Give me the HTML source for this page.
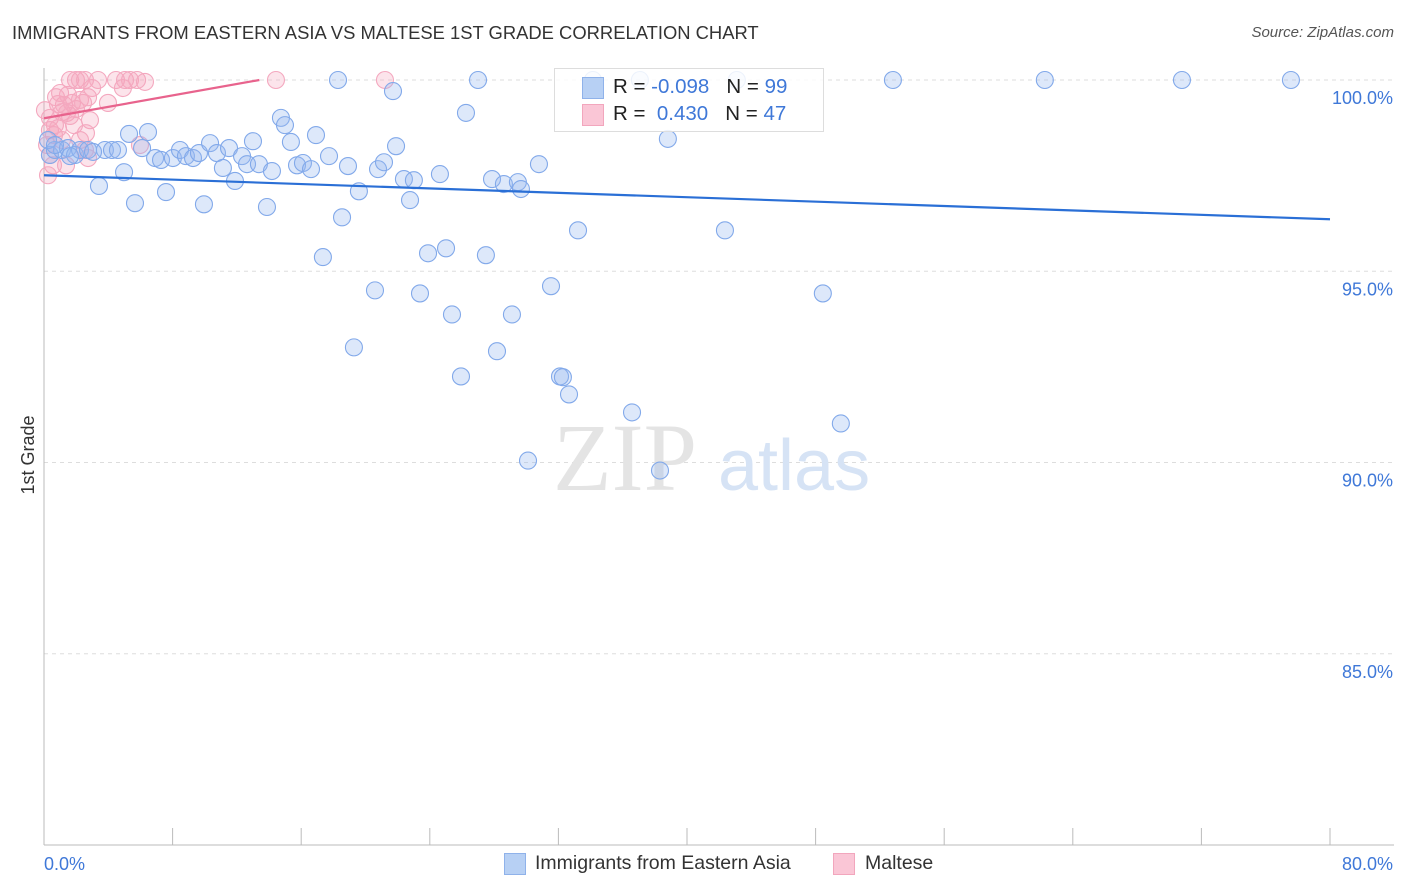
<!DOCTYPE html>
<html><head><meta charset="utf-8"><style>
body{margin:0;background:#fff;font-family:"Liberation Sans",sans-serif;}
#wrap{position:relative;width:1406px;height:892px;overflow:hidden;}
.t{position:absolute;white-space:nowrap;}
</style></head><body>
<div id="wrap">
<div class="t" style="left:12px;top:22px;font-size:18.4px;color:#333;">IMMIGRANTS FROM EASTERN ASIA VS MALTESE 1ST GRADE CORRELATION CHART</div>
<div class="t" style="right:12px;top:24px;font-size:15px;color:#555;font-style:italic;">Source: ZipAtlas.com</div>
<svg id="svg" width="1406" height="892" style="position:absolute;left:0;top:0"></svg>
</div>
<script>
const xTickLabels=["0.0%","80.0%"];
const yTicks=[100,95,90,85];
const blueX=[0.37,0.68,1.12,1.49,1.93,2.24,2.74,3.42,3.79,4.23,4.60,4.98,5.29,5.66,6.10,6.47,6.91,7.28,7.59,8.02,8.46,8.83,9.27,9.64,9.95,10.33,10.76,11.13,11.51,11.88,12.32,12.63,13.00,13.37,13.87,14.18,14.74,14.99,15.36,15.74,16.11,16.61,16.92,17.35,17.73,18.29,18.54,18.91,19.28,19.59,20.59,20.78,21.15,21.71,21.90,22.39,22.77,23.01,23.39,23.89,24.63,25.01,25.38,25.94,26.25,27.00,27.49,27.87,28.18,28.61,29.11,29.48,29.67,30.11,30.79,31.54,32.10,32.28,32.66,33.22,34.15,36.58,37.07,38.32,38.81,42.36,43.10,48.45,49.57,52.81,62.26,70.79,77.57,0.25,0.68,1.62,3.05];
const blueY=[98.04,98.17,98.17,98.22,98.04,98.17,98.17,97.23,98.17,98.17,98.17,97.59,98.59,96.78,98.22,98.64,97.96,97.91,97.07,97.96,98.17,98.01,97.96,98.09,96.75,98.35,98.09,97.70,98.22,97.36,98.01,97.80,98.40,97.80,96.68,97.62,99.01,98.82,98.38,97.77,97.83,97.67,98.56,95.37,98.01,100,96.41,97.75,93.01,97.09,94.50,97.67,97.85,99.71,98.27,97.41,96.86,97.38,94.42,95.47,97.54,95.60,93.87,92.25,99.14,100,95.42,97.41,92.91,97.28,93.87,97.33,97.15,90.05,97.80,94.61,92.25,92.23,91.78,96.07,100,91.31,100,89.79,98.46,96.07,100,94.42,91.02,100,100,100,100,98.43,98.30,98.01,98.12];
const pinkX=[1.62,1.99,2.24,2.55,3.36,4.48,5.04,5.35,5.79,6.28,14.43,21.21,1.0,1.24,0.87,1.74,2.24,2.74,2.99,3.98,4.91,0.37,0.68,1.12,1.43,1.62,1.99,2.43,2.86,0.37,0.62,0.87,0.19,0.37,0.56,0.25,1.37,2.24,2.55,2.74,2.61,5.97,1.87,1.12,0.06,0.75,1.49];
const pinkY=[100,100,100,100,100,100,100,100,100,99.95,100,100,99.66,99.35,99.37,99.40,99.48,99.55,99.79,99.40,99.79,99.01,98.82,99.16,99.14,99.06,99.24,99.40,98.95,98.69,98.56,98.74,98.30,98.04,97.77,97.51,97.77,98.43,98.17,97.96,98.61,98.30,98.82,98.43,99.21,99.55,99.61];
const blueTrend=[[0,97.51],[80,96.36]];
const pinkTrend=[[0,99.0],[13.4,100]];
const X=v=>44+v*(1286/80);
const Y=v=>80+(100-v)*38.25;
const svg=document.getElementById('svg');
const NS='http://www.w3.org/2000/svg';
function mk(tag,attrs){const e=document.createElementNS(NS,tag);for(const k in attrs)e.setAttribute(k,attrs[k]);svg.appendChild(e);return e;}
yTicks.forEach(v=>{
 const g=mk('line',{x1:44,x2:1394,y1:Y(v),y2:Y(v),stroke:'#ddd','stroke-dasharray':'4,4'});
 
 
 const t=mk('text',{x:1393,y:Y(v)+24,'text-anchor':'end','font-size':18,fill:'#3f78d8','font-family':'Liberation Sans'});
 t.textContent=v.toFixed(1)+'%';
 
 
});
const ax=mk('line',{x1:44,x2:44,y1:68,y2:845,stroke:'#bbb'});


const bx=mk('line',{x1:44,x2:1394,y1:845,y2:845,stroke:'#bbb'});


for(let i=0;i<=10;i++){
 const tk=mk('line',{x1:X(i*8),x2:X(i*8),y1:828,y2:845,stroke:'#bbb'});
 
 
}
[[X(0),'start',xTickLabels[0]],[1393,'end',xTickLabels[1]]].forEach(([x,a,s])=>{
 const t=mk('text',{x:x,y:870,'text-anchor':a,'font-size':18,fill:'#3f78d8','font-family':'Liberation Sans'});
 t.textContent=s;
 
 
});
const yt=mk('text',{x:34,y:455,'text-anchor':'middle','font-size':18,fill:'#333','font-family':'Liberation Sans',transform:'rotate(-90 34 455)'});
yt.textContent='1st Grade';


const w1=mk('text',{x:553,y:490,'font-size':96,fill:'#e4e4e4','font-family':'Liberation Serif'});
w1.textContent='ZIP';


const w2=mk('text',{x:718,y:490,'font-size':72,fill:'#d6e3f5','font-family':'Liberation Sans'});
w2.textContent='atlas';


pinkX.forEach((x,i)=>{
 const c=mk('circle',{cx:X(x),cy:Y(pinkY[i]),r:8.5,fill:'rgba(246,165,190,0.3)',stroke:'#f4a8bf','stroke-width':1.1});
 
 
});
blueX.forEach((x,i)=>{
 const c=mk('circle',{cx:X(x),cy:Y(blueY[i]),r:8.5,fill:'rgba(150,185,240,0.32)',stroke:'#82a9ea','stroke-width':1.1});
 
 
});
const bl=mk('line',{x1:X(blueTrend[0][0]),y1:Y(blueTrend[0][1]),x2:X(blueTrend[1][0]),y2:Y(blueTrend[1][1]),stroke:'#2a6fd6','stroke-width':2.2});


const pl=mk('line',{x1:X(pinkTrend[0][0]),y1:Y(pinkTrend[0][1]),x2:X(pinkTrend[1][0]),y2:Y(pinkTrend[1][1]),stroke:'#e8638d','stroke-width':2.2});


</script>
<div style="position:absolute;left:554px;top:68px;width:268px;height:62px;border:1px solid #ddd;background:rgba(255,255,255,0.85);font-size:20.5px;">
 <div style="position:absolute;left:27px;top:8px;width:20px;height:20px;background:#b7d0f4;border:1px solid #8fb2ea;"></div>
 <div class="t" style="left:58px;top:6px;color:#222;">R = <span style="color:#3f78d8">-0.098</span>&nbsp;&nbsp;&nbsp;N = <span style="color:#3f78d8">99</span></div>
 <div style="position:absolute;left:27px;top:35px;width:20px;height:20px;background:#fac6d6;border:1px solid #f2a6bd;"></div>
 <div class="t" style="left:58px;top:33px;color:#222;">R = &nbsp;<span style="color:#3f78d8">0.430</span>&nbsp;&nbsp;&nbsp;N = <span style="color:#3f78d8">47</span></div>
</div>
<div style="position:absolute;left:504px;top:853px;width:20px;height:20px;background:#b7d0f4;border:1px solid #8fb2ea;"></div>
<div class="t" style="left:535px;top:852px;font-size:19.5px;color:#333;">Immigrants from Eastern Asia</div>
<div style="position:absolute;left:833px;top:853px;width:20px;height:20px;background:#fac6d6;border:1px solid #f2a6bd;"></div>
<div class="t" style="left:865px;top:852px;font-size:19.5px;color:#333;">Maltese</div>
</body></html>
